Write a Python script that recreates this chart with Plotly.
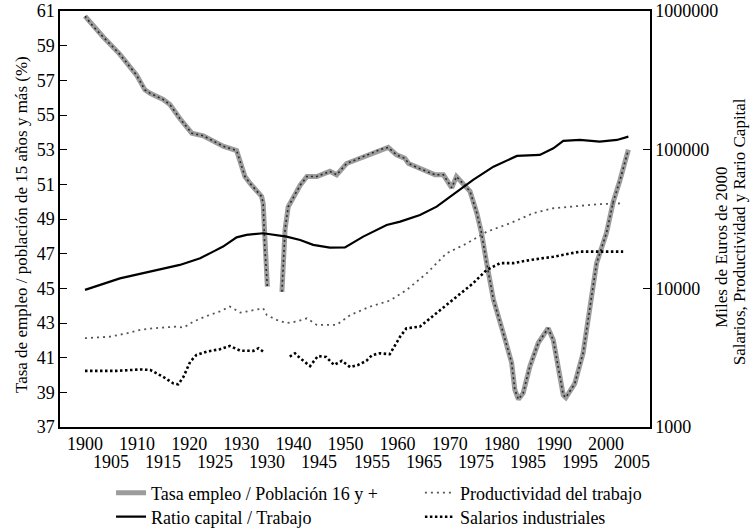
import plotly.graph_objects as go

# ---------------- data ----------------
emp_year = [1900, 1901.6, 1903.5, 1906.7, 1909.9, 1911.5, 1912.5, 1915.0, 1916.3, 1918.2,
            1920.5, 1922.7, 1926.5, 1929.1, 1930.7, 1931.7, 1933.9, 1934.2, 1934.5, 1935.0,
            1936.5,
            1937.8, 1938.1, 1938.4, 1939.0, 1940.3, 1941.3, 1942.6, 1944.5, 1947.0, 1948.3,
            1950.2, 1953.4, 1956.6, 1958.2, 1959.8, 1961.4, 1962.1, 1964.3, 1967.2, 1968.8,
            1970.4, 1971.3, 1972.6, 1973.9, 1975.2, 1976.1, 1977.1, 1978.4, 1980.3, 1981.9,
            1982.5, 1983.2, 1984.1, 1985.4, 1987.0, 1988.9, 1989.9, 1990.8, 1991.8, 1992.3,
            1994.0, 1995.6, 1996.9, 1998.2, 2000.1, 2001.4, 2002.7, 2004.3]
emp_val = [60.7, 60.1, 59.5, 58.5, 57.3, 56.45, 56.25, 55.9, 55.6, 54.8,
           53.95, 53.8, 53.2, 52.95, 51.45, 51.05, 50.3, 49.9, 47.4, 45.1,
           None,
           44.8, 46.6, 48.4, 49.7, 50.45, 50.95, 51.45, 51.45, 51.75, 51.55,
           52.2, 52.6, 53.0, 53.13, 52.7, 52.5, 52.2, 51.9, 51.55, 51.55,
           50.8, 51.45, 51.05, 50.6, 49.35, 48.2, 46.45, 44.35, 42.4, 40.7,
           39.15, 38.6, 38.95, 40.5, 41.85, 42.7, 42.0, 40.5, 38.85, 38.7,
           39.5, 41.25, 43.75, 46.45, 48.2, 50.0, 51.25, 53.0]

cap_year = [1900, 1906.7, 1918.2, 1922.1, 1924.6, 1926.5, 1929.1, 1931.0, 1934.2, 1938.7,
            1941.3, 1943.8, 1947.0, 1949.9, 1953.4, 1957.9, 1960.5, 1964.3, 1967.5, 1971.3,
            1974.5, 1978.4, 1982.9, 1987.3, 1989.9, 1991.8, 1995.0, 1998.8, 2002.1, 2004.3]
cap_val = [9750, 11800, 14750, 16500, 18400, 20000, 23300, 24300, 24950, 23600,
           22300, 20600, 19650, 19700, 23600, 28600, 30300, 33800, 38800, 49800,
           60500, 75400, 90100, 91600, 102300, 115600, 117500, 114200, 117500, 124200]

prod_year = [1900, 1904.8, 1908.0, 1910.6, 1913.1, 1917.6, 1918.9, 1920.8, 1923.4, 1925.9,
             1927.8, 1929.8, 1934.2, 1934.9, 1936.8, 1938.7, 1940.6, 1942.6, 1944.5, 1948.3,
             1950.9, 1954.7, 1958.5, 1961.7, 1965.6, 1969.4, 1973.3, 1977.1, 1981.6, 1986.0,
             1989.9, 1993.7, 1998.8, 2003.3]
prod_val = [4370, 4480, 4740, 5010, 5150, 5300, 5200, 5760, 6320, 6820,
            7380, 6680, 7170, 6410, 5920, 5620, 5760, 6080, 5450, 5450,
            6410, 7380, 8160, 9710, 12850, 17900, 21100, 25600, 29450, 34800,
            37800, 38800, 40500, 41000]

sal_year = [1900, 1906.1, 1910.6, 1912.5, 1915.0, 1917.0, 1917.9, 1918.9, 1920.2, 1921.4,
            1923.4, 1925.9, 1927.8, 1929.8, 1932.3, 1933.3, 1934.2,
            1936.7,
            1939.3, 1940.3, 1941.3, 1943.2, 1944.7, 1946.3, 1947.8, 1949.3, 1950.9, 1952.4,
            1954.0, 1955.1, 1956.6, 1958.5, 1960.5, 1961.7, 1964.3, 1967.5, 1970.7, 1974.5,
            1977.1, 1979.7, 1982.2, 1985.4, 1989.9, 1995.0, 2003.3]
sal_val = [2540, 2540, 2600, 2580, 2300, 2060, 2030, 2300, 2960, 3310,
           3500, 3640, 3840, 3550, 3540, 3700, 3500,
           None,
           3220, 3400, 3130, 2750, 3250, 3200, 2800, 3000, 2700, 2800,
           3000, 3300, 3400, 3350, 4490, 5150, 5300, 6610, 8240, 10880,
           13580, 15200, 15200, 16000, 16900, 18400, 18400]

row1_ticks = [1900, 1910, 1920, 1930, 1940, 1950, 1960, 1970, 1980, 1990, 2000]
row1_text = ["1900", "1910", "1920", "1930", "1940", "1950", "1960", "1970", "1980", "1990", "2000"]
row2_ticks = [1905, 1915, 1925, 1935, 1945, 1955, 1965, 1975, 1985, 1995, 2005]
row2_text = ["1905", "1915", "1925", "1930", "1945", "1955", "1965", "1975", "1985", "1995", "2005"]
right_ticks = [1000, 10000, 100000, 1000000]
right_text = ["1000", "10000", "100000", "1000000"]

FONT = "Liberation Serif"
BIG = dict(family=FONT, size=18, color="black")
TITLE = dict(family=FONT, size=17, color="black")

fig = go.Figure()
fig.add_trace(go.Scatter(x=emp_year, y=emp_val, mode="lines", name="Tasa empleo / Población 16 y +",
                         line=dict(color="#9c9c9c", width=5), legend="legend"))
fig.add_trace(go.Scatter(x=emp_year, y=emp_val, mode="lines", showlegend=False, hoverinfo="skip",
                         line=dict(color="#2a2a2a", width=1.6, dash="2px,3px")))
fig.add_trace(go.Scatter(x=prod_year, y=prod_val, mode="lines", name="Productividad del trabajo",
                         yaxis="y2", legend="legend2",
                         line=dict(color="#555555", width=1.8, dash="2px,4px")))
fig.add_trace(go.Scatter(x=cap_year, y=cap_val, mode="lines", name="Ratio capital / Trabajo",
                         yaxis="y2", legend="legend3",
                         line=dict(color="black", width=2.2)))
fig.add_trace(go.Scatter(x=sal_year, y=sal_val, mode="lines", name="Salarios industriales",
                         yaxis="y2", legend="legend4",
                         line=dict(color="black", width=2.6, dash="2.5px,2.5px")))

annotations = []
for yv, tx in zip(row2_ticks, row2_text):
    annotations.append(dict(x=yv, y=0, xref="x", yref="paper", text=tx, showarrow=False,
                            xanchor="center", yanchor="middle", yshift=-35, font=BIG))
annotations.append(dict(x=-0.064, y=0.486, xref="paper", yref="paper",
                        text="Tasa de empleo / población de 15 años y más (%)", textangle=-90,
                        showarrow=False, xanchor="center", yanchor="middle", font=TITLE))
annotations.append(dict(x=1.122, y=0.433, xref="paper", yref="paper",
                        text="Miles de Euros de 2000", textangle=-90,
                        showarrow=False, xanchor="center", yanchor="middle", font=TITLE))
annotations.append(dict(x=1.153, y=0.469, xref="paper", yref="paper",
                        text="Salarios, Productividad y Rario Capital", textangle=-90,
                        showarrow=False, xanchor="center", yanchor="middle", font=TITLE))

def leg(x, y):
    return dict(orientation="v", x=x, y=y, xanchor="left", yanchor="middle",
                font=BIG, bgcolor="rgba(0,0,0,0)", borderwidth=0)

fig.update_layout(
    width=753, height=528,
    margin=dict(l=60, r=103, t=11, b=101, autoexpand=False),
    paper_bgcolor="white", plot_bgcolor="white",
    font=BIG,
    showlegend=True,
    legend=leg(0.0865, -0.1587),
    legend2=leg(0.610, -0.1587),
    legend3=leg(0.0865, -0.2163),
    legend4=leg(0.610, -0.2163),
    xaxis=dict(range=[1895.2, 2008.45], tickvals=row1_ticks, ticktext=row1_text,
               showline=True, linecolor="black", linewidth=1.5, mirror=True,
               showgrid=False, zeroline=False, ticks="", tickfont=BIG),
    yaxis=dict(range=[37, 61], dtick=2, tick0=37, showline=True, linecolor="black", linewidth=1.5,
               showgrid=False, zeroline=False, ticks="inside", ticklen=7, tickcolor="black",
               tickfont=BIG),
    yaxis2=dict(type="log", range=[3, 6], overlaying="y", side="right",
                tickvals=right_ticks, ticktext=right_text,
                showline=True, linecolor="black", linewidth=1.5, showgrid=False, zeroline=False,
                ticks="inside", ticklen=7, tickcolor="black", tickfont=BIG),
    annotations=annotations,
)

fig.write_html("out.html", config={"displayModeBar": False},
               post_script="document.body.style.margin='0';")
